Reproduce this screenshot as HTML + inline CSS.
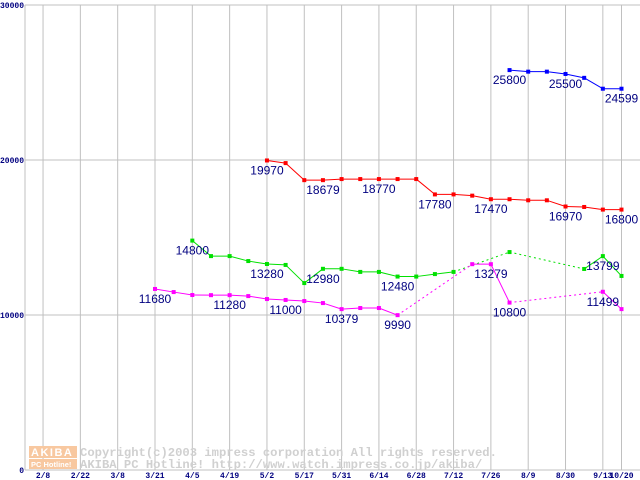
<!DOCTYPE html>
<html><head><meta charset="utf-8"><style>
body{margin:0;background:#fff;}
svg{display:block;font-family:"Liberation Sans","DejaVu Sans",sans-serif;}
</style></head><body>
<svg id="chart" width="640" height="480" viewBox="0 0 640 480" xmlns="http://www.w3.org/2000/svg">
<g id="grid"></g>
<g id="watermark">
<rect x="29" y="446" width="48" height="12" fill="#f8c8a0"/>
<text x="31" y="456" font-size="11" font-weight="bold" fill="#fff" letter-spacing="1.5">AKIBA</text>
<rect x="29" y="459" width="48" height="10" fill="#f8c8a0"/>
<text x="31" y="467" font-size="7.5" font-weight="bold" fill="#fff">PC Hotline!</text>
<text x="80" y="456" font-family="Liberation Mono, monospace" font-size="12.2" font-weight="bold" fill="#d0d0d0">Copyright(c)2003 impress corporation All rights reserved.</text>
<text x="80" y="468" font-family="Liberation Mono, monospace" font-size="12.2" font-weight="bold" fill="#d0d0d0">AKIBA PC Hotline!  http://www.watch.impress.co.jp/akiba/</text>
</g>
<g id="series"></g>
<g id="labels"></g>
</svg>
<script>
const xTicks = ["2/8","2/22","3/8","3/21","4/5","4/19","5/2","5/17","5/31","6/14","6/28","7/12","7/26","8/9","8/30","9/13","10/20"];
const yTicks = [0,10000,20000,30000];
const blue    = [null,null,null,null,null,null,null,null,null,null,null,null,null,null,null,null,null,null,null,25800,25700,25700,25550,25300,24599,24599];
const red     = [null,null,null,null,null,null,19970,19800,18700,18700,18770,18770,18770,18770,18770,17780,17780,17700,17470,17470,17400,17400,17000,16970,16800,16800];
const green   = [null,null,14800,13800,13800,13480,13290,13230,12060,12980,12980,12780,12780,12480,12480,12640,12780,null,null,14060,null,null,null,12970,13799,12520];
const magenta = [11680,11480,11290,11280,11280,11220,11030,10970,10900,10770,10379,10450,10450,9990,null,null,null,13279,13279,10800,null,null,null,null,11499,10380];
const blueLabels    = [[19,"25800"],[22,"25500"],[25,"24599"]];
const redLabels     = [[6,"19970"],[9,"18679"],[12,"18770"],[15,"17780"],[18,"17470"],[22,"16970"],[25,"16800"]];
const greenLabels   = [[2,"14800"],[6,"13280"],[9,"12980"],[13,"12480"],[24,"13799"]];
const magentaLabels = [[0,"11680"],[4,"11280"],[7,"11000"],[10,"10379"],[13,"9990"],[18,"13279"],[19,"10800"],[24,"11499"]];

const NS="http://www.w3.org/2000/svg";
function X(k){return 155+k*18.66;}
function Y(v){return 470-v*0.0155;}
function mk(tag,attrs,parent){const e=document.createElementNS(NS,tag);for(const a in attrs)e.setAttribute(a,attrs[a]);parent.appendChild(e);return e;}
const grid=document.getElementById('grid');
yTicks.forEach((t,i)=>{
  const l=mk('line',{x1:25,x2:640,y1:Y(t),y2:Y(t),stroke:'#c0c0c0','stroke-width':1},grid);
  
  
  const tx=mk('text',{x:24,y:Y(t)+3,'text-anchor':'end','font-size':8,'font-weight':'bold',fill:'#000080','font-family':'Liberation Mono, monospace'},grid);
  tx.textContent=t;
  
  
});
mk('line',{x1:25,x2:25,y1:Y(30000),y2:470,stroke:'#c0c0c0'},grid);
xTicks.forEach((t,i)=>{
  const k=(i-3)*2; let x=X(k);
  if(t==="10/20") x=X(25);
  const l=mk('line',{x1:x,x2:x,y1:Y(30000),y2:470,stroke:'#c0c0c0','stroke-width':1},grid);
  
  
  const tx=mk('text',{x:x,y:478,'text-anchor':'middle','font-size':8,'font-weight':'bold',fill:'#000080','font-family':'Liberation Mono, monospace'},grid);
  tx.textContent=t;
  
  
});
const sg=document.getElementById('series'), lg=document.getElementById('labels');
function draw(vals,color,labels,name){
  let prev=null;
  vals.forEach((v,k)=>{
    if(v===null)return;
    if(prev!==null){
      const a={x1:X(prev),y1:Y(vals[prev]),x2:X(k),y2:Y(v),stroke:color,'stroke-width':1};
      if(k-prev>1)a['stroke-dasharray']='2,3';
      const l=mk('line',a,sg);
      
      
    }
    prev=k;
  });
  vals.forEach((v,k)=>{
    if(v===null)return;
    const r=mk('rect',{x:X(k)-2,y:Y(v)-2,width:4,height:4,fill:color},sg);
    
    
  });
  labels.forEach(([k,t])=>{
    const tx=mk('text',{x:X(k),y:Y(vals[k])+14,'text-anchor':'middle','font-size':12,fill:'#000080'},lg);
    tx.textContent=t;
    
    
  });
}
draw(blue,'#0000ff',blueLabels,'blue-series');
draw(red,'#ff0000',redLabels,'red-series');
draw(green,'#00e000',greenLabels,'green-series');
draw(magenta,'#ff00ff',magentaLabels,'magenta-series');
</script>
</body></html>
